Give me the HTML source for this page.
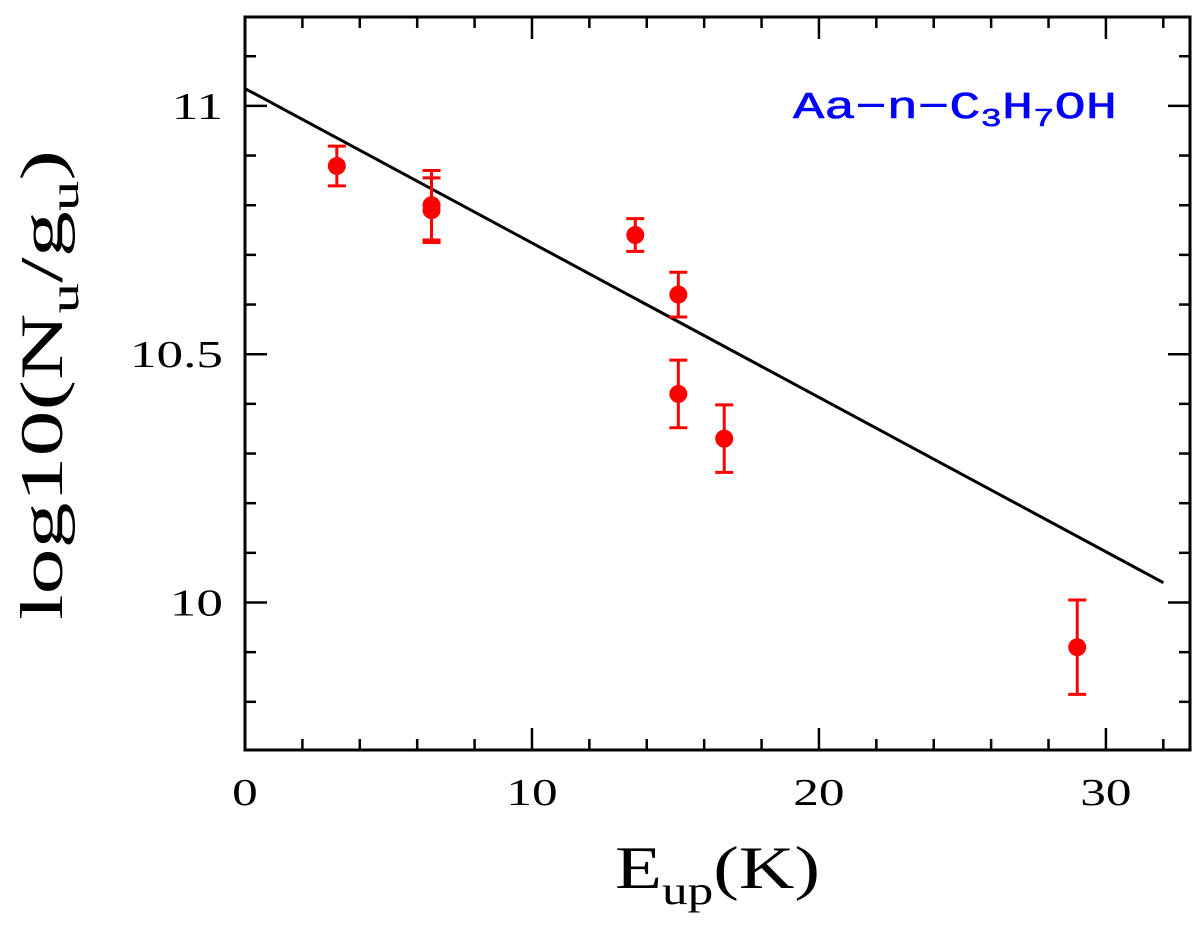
<!DOCTYPE html>
<html><head><meta charset="utf-8"><style>
html,body{margin:0;padding:0;background:#fff;}
svg{display:block;}
</style></head><body>
<svg id="chart" width="1200" height="944" viewBox="0 0 1200 944" xmlns="http://www.w3.org/2000/svg">
<g id="axes"></g>
<g id="fit"></g>
<g id="pts"></g>
<text x="793" y="118" textLength="324" lengthAdjust="spacingAndGlyphs" font-family="Liberation Mono, monospace" font-size="38" fill="#0000ff" stroke="#0000ff" stroke-width="0.6">Aa−n−C<tspan font-size="26" dy="8">3</tspan><tspan dy="-8">H</tspan><tspan font-size="26" dy="8">7</tspan><tspan dy="-8">OH</tspan></text>
<text x="615" y="888" textLength="205" lengthAdjust="spacingAndGlyphs" font-family="Liberation Serif, serif" font-size="60">E<tspan font-size="40" dy="16">up</tspan><tspan dy="-16">(K)</tspan></text>
<text transform="translate(62,620) rotate(-90)" textLength="470" lengthAdjust="spacingAndGlyphs" font-family="Liberation Serif, serif" font-size="60">log10(N<tspan font-size="40" dy="16">u</tspan><tspan dy="-16">/g</tspan><tspan font-size="40" dy="16">u</tspan><tspan dy="-16">)</tspan></text>
</svg>
<script>
const xs = [3.2, 6.5, 6.5, 13.6, 15.1, 15.1, 16.7, 29.0];
const ys = [10.879, 10.80, 10.79, 10.74, 10.62, 10.42, 10.33, 9.91];
const errs = [0.04, 0.07, 0.065, 0.033, 0.045, 0.068, 0.068, 0.095];
const fitX = [0, 32];
const fitY = [11.035, 10.04];
const xTicks = [0, 10, 20, 30];
const yTicks = [10, 10.5, 11];
const yTickLabels = ["10", "10.5", "11"];

const L=245,R=1190,T=17,B=750;
const X0=0,X1=32.93,Y0=9.703,Y1=11.179;
function sx(v){return L+(v-X0)/(X1-X0)*(R-L);}
function sy(v){return B-(v-Y0)/(Y1-Y0)*(B-T);}
const NS="http://www.w3.org/2000/svg";
function mk(tag,attrs,parent){const e=document.createElementNS(NS,tag);for(const k in attrs)e.setAttribute(k,attrs[k]);parent.appendChild(e);return e;}
const ax=document.getElementById('axes');
const frame=mk('rect',{x:L,y:T,width:R-L,height:B-T,fill:'none',stroke:'#000','stroke-width':3},ax);


for(let v=0;v<=32;v+=2){
  const big=v%10===0, len=big?22:11, x=sx(v);
  const t1=mk('line',{x1:x,x2:x,y1:B,y2:B-len,stroke:'#000','stroke-width':2.5},ax);
  
  
  const t2=mk('line',{x1:x,x2:x,y1:T,y2:T+len,stroke:'#000','stroke-width':2.5},ax);
  
  
}
xTicks.forEach(v=>{
  const s=String(v);
  const t=mk('text',{x:sx(v),y:B+55,'font-family':'Liberation Serif, serif','font-size':38,'text-anchor':'middle',transform:`translate(${sx(v)},0) scale(1.35,1) translate(${-sx(v)},0)`},ax);
  t.textContent=s;
  
  
});
for(let i=98;i<=111;i++){
  const v=i/10, big=(i%5===0), len=big?22:11, y=sy(v);
  const t1=mk('line',{x1:L,x2:L+len,y1:y,y2:y,stroke:'#000','stroke-width':2.5},ax);
  
  
  const t2=mk('line',{x1:R,x2:R-len,y1:y,y2:y,stroke:'#000','stroke-width':2.5},ax);
  
  
}
yTicks.forEach((v,i)=>{
  const ex=L-22;
  const t=mk('text',{x:ex,y:sy(v)+13,'font-family':'Liberation Serif, serif','font-size':38,'text-anchor':'end',transform:`translate(${ex},0) scale(1.4,1) translate(${-ex},0)`},ax);
  t.textContent=yTickLabels[i];
  
  
});
const fl=mk('line',{x1:sx(fitX[0]),y1:sy(fitY[0]),x2:sx(fitX[1]),y2:sy(fitY[1]),stroke:'#000','stroke-width':3},document.getElementById('fit'));


const pg=document.getElementById('pts');
xs.forEach((xv,i)=>{
  const x=sx(xv),y=sy(ys[i]),yt=sy(ys[i]+errs[i]),yb=sy(ys[i]-errs[i]);
  const g=mk('g',{stroke:'#ff0000','stroke-width':3},pg);
  
  
  mk('line',{x1:x,x2:x,y1:yt,y2:yb},g);
  mk('line',{x1:x-9,x2:x+9,y1:yt,y2:yt},g);
  mk('line',{x1:x-9,x2:x+9,y1:yb,y2:yb},g);
  mk('circle',{cx:x,cy:y,r:9,fill:'#ff0000',stroke:'none'},g);
});
</script>
</body></html>
